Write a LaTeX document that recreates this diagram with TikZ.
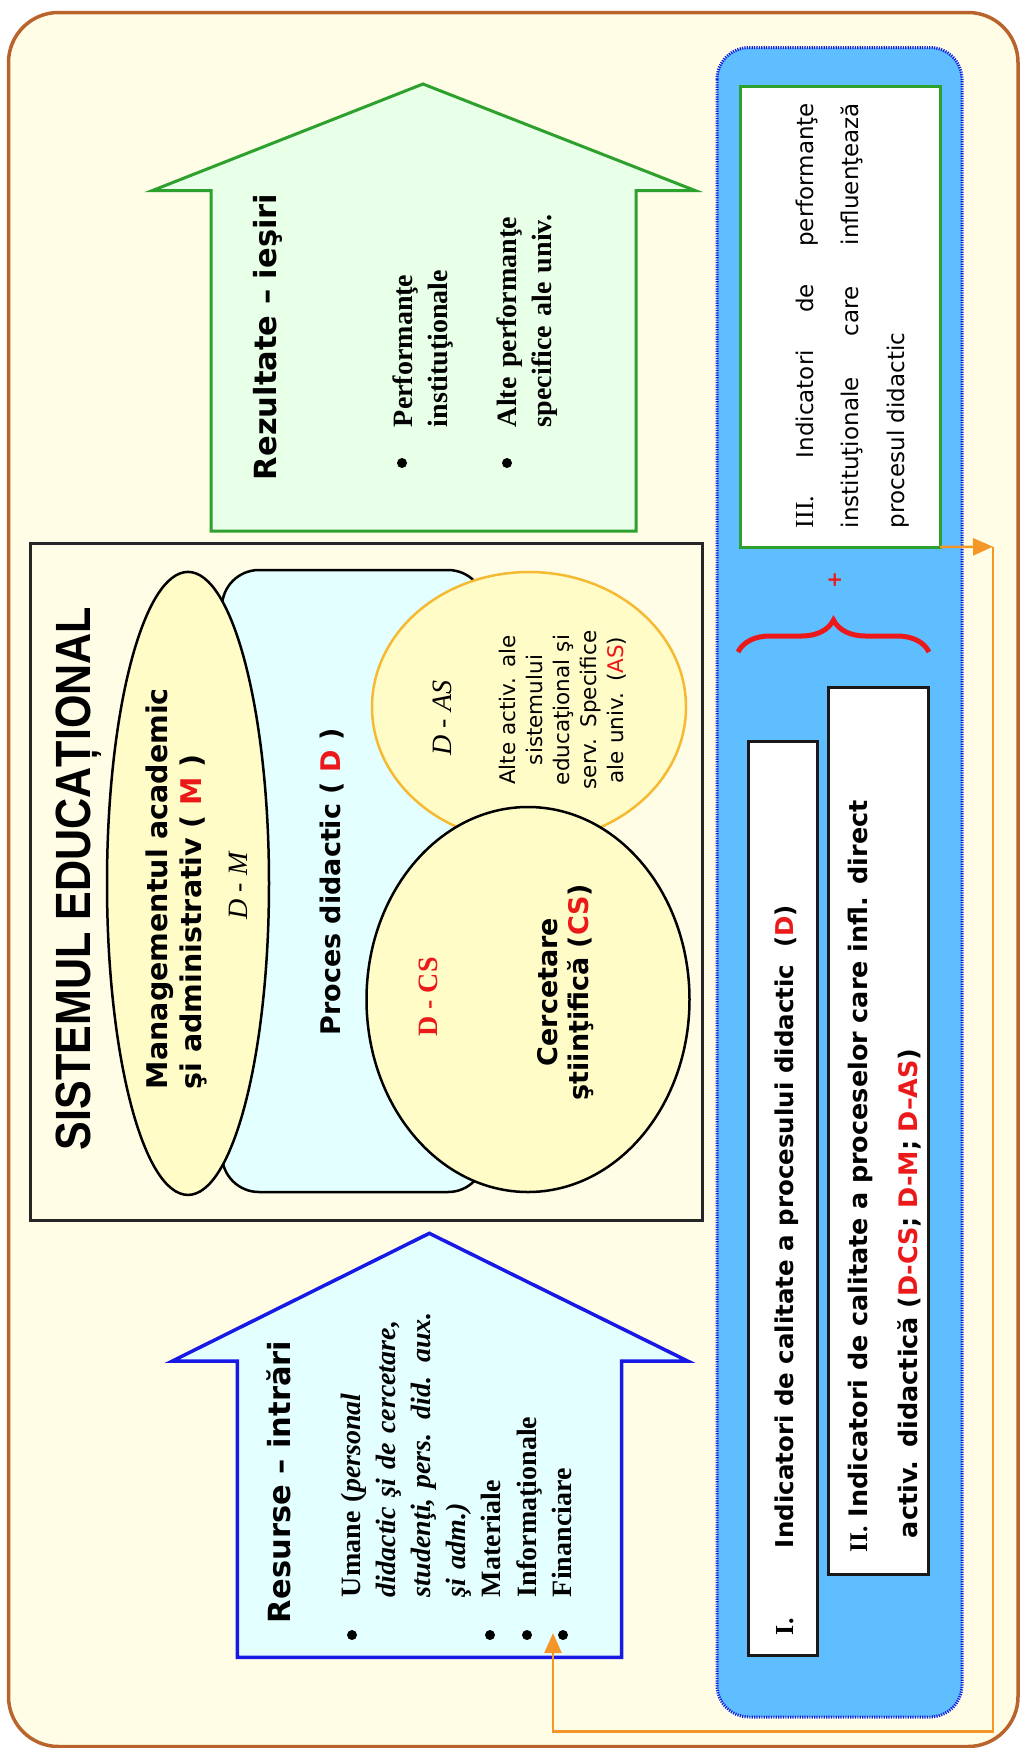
\documentclass[tikz,border=0pt]{standalone}
\usepackage{fontspec}
\setmainfont{Liberation Serif}
\setsansfont{DejaVu Sans}
\newfontfamily\titlefont[FakeStretch=0.87]{Liberation Sans}
\usetikzlibrary{arrows.meta, shapes.geometric, decorations.pathreplacing}

\definecolor{bgbeige}{RGB}{255,253,230}
\definecolor{framebrown}{RGB}{185,100,45}
\definecolor{panelblue}{RGB}{95,190,255}
\definecolor{paneledge}{RGB}{20,30,220}
\definecolor{outgreen}{RGB}{45,160,45}
\definecolor{outfill}{RGB}{232,255,232}
\definecolor{inblue}{RGB}{25,25,230}
\definecolor{infill}{RGB}{228,255,255}
\definecolor{ellyellow}{RGB}{255,252,200}
\definecolor{asorange}{RGB}{245,185,50}
\definecolor{linkorange}{RGB}{245,150,40}
\definecolor{textred}{RGB}{235,25,25}

\begin{document}
\begin{tikzpicture}[
    x=1pt, y=-1pt,
    outerframe/.style={
        draw=framebrown,
        line width=3.5pt,
        fill=bgbeige,
        rounded corners=50pt,
    },
    bluepanel/.style={
        draw=paneledge,
        line width=3pt,
        dash pattern=on 1.2pt off 1.2pt,
        fill=panelblue,
        rounded corners=32pt,
    },
    sysbox/.style={
        draw=black!85,
        line width=3pt,
        inner sep=0pt,
        outer sep=0pt,
    },
    whitebox/.style={
        draw=black!90,
        line width=3pt,
        fill=white,
        inner sep=0pt,
        outer sep=0pt,
    },
    procbox/.style={
        draw,
        line width=2.5pt,
        fill=infill,
        rounded corners=37pt,
        inner sep=0pt,
    },
    zone/.style={
        ellipse,
        draw,
        line width=2.5pt,
        fill=ellyellow,
        inner sep=0pt,
    },
    outarrow/.style={
        draw=outgreen,
        line width=3pt,
        fill=outfill,
    },
    inarrow/.style={
        draw=inblue,
        line width=3.5pt,
        fill=infill,
    },
    bulletdot/.style={
        circle,
        fill=black,
        inner sep=0pt,
        minimum size=10pt,
    },
    link/.style={
        draw=linkorange,
        line width=2.5pt,
        -{Triangle[length=20pt, width=17pt]},
    },
    bracket/.style={
        draw=textred,
        line width=5pt,
        decorate,
        decoration={brace, amplitude=32pt},
    },
    vtext/.style={
        rotate=90,
        inner sep=0pt,
        outer sep=0pt,
    },
    titletext/.style={vtext, font=\titlefont\bfseries\fontsize{49.5}{55}\selectfont},
    headsans/.style={vtext, font=\sffamily\bfseries\fontsize{30.5}{35}\selectfont},
    mainsans/.style={vtext, font=\sffamily\bfseries\fontsize{28.5}{34.7}\selectfont},
    procsans/.style={vtext, font=\sffamily\bfseries\fontsize{27}{31}\selectfont},
    smallsans/.style={vtext, font=\sffamily\fontsize{21.5}{27}\selectfont},
    listserif/.style={vtext, font=\rmfamily\bfseries\fontsize{28}{35.2}\selectfont},
    dserif/.style={vtext, font=\rmfamily\itshape\fontsize{28}{32}\selectfont},
    dbold/.style={vtext, text=textred, font=\rmfamily\bfseries\fontsize{28}{32}\selectfont},
    boxsans/.style={vtext, font=\sffamily\bfseries\fontsize{24.5}{30}\selectfont},
    boxsansii/.style={vtext, font=\sffamily\bfseries\fontsize{25.5}{50}\selectfont},
    plainsans/.style={vtext, font=\sffamily\fontsize{23}{45.5}\selectfont},
]
    \useasboundingbox (0,0) rectangle (1020,1748);

    % Background
    \draw[outerframe] (8.5,12.5) rectangle (1018,1746.5);
    \draw[bluepanel] (717,47.5) rectangle (962,1717);

    % Outputs
    \draw[outarrow] (211,531) -- (211,190.5) -- (152.5,190.5) -- (423,84)
        -- (695,190.5) -- (636,190.5) -- (636,531) -- cycle;
    \node[headsans, anchor=base west] (reztitle) at (276,480) {Rezultate – ieşiri};
    \node[bulletdot] (rez1) at (402,463) {};
    \node[bulletdot] (rez2) at (507,463) {};
    \node[listserif, text width=260pt, align=left, anchor=base west] (reztext1) at (412,427)
        {Performanţe\\instituţionale};
    \node[listserif, text width=260pt, align=left, anchor=base west] (reztext2) at (516,427)
        {Alte performanţe\\specifice ale univ.};

    % Inputs
    \draw[inarrow] (237.3,1657.3) -- (237.3,1361) -- (172.4,1361) -- (429.3,1233.3)
        -- (687.6,1361) -- (621.7,1361) -- (621.7,1657.3) -- cycle;
    \node[headsans, anchor=base west] (restitle) at (290,1623) {Resurse – intrări};
    \node[bulletdot] (res1) at (352,1635) {};
    \node[bulletdot] (res2) at (490,1635) {};
    \node[bulletdot] (res3) at (527,1635) {};
    \node[bulletdot] (res4) at (563,1635) {};
    \node[listserif, text width=320pt, align=left, anchor=base west] (restext) at (360,1597)
        {Umane (\textit{personal}\\\textit{didactic şi de cercetare,}\\\textit{studenţi, pers. did. aux.}\\\textit{şi adm.)}\\Materiale\\Informaţionale\\Financiare};

    % System
    \node[sysbox, minimum width=672pt, minimum height=677pt] (system) at (366,881.5) {};
    \node[titletext, anchor=base west] (systitle) at (90,1150) {SISTEMUL EDUCAȚIONAL};
    \node[procbox, minimum width=263pt, minimum height=622pt] (proc) at (353.5,881) {};
    \node[zone, minimum width=162pt, minimum height=623pt] (mgmt) at (188,883.4) {};
    \node[zone, draw=asorange, minimum width=314pt, minimum height=270pt] (alte) at (529,707) {};
    \node[zone, minimum width=323pt, minimum height=385pt] (cerc) at (528,999.5) {};

    \node[mainsans, text width=420pt, align=left, anchor=base west] (mgmttext) at (167,1089)
        {Managementul academic\\şi administrativ ( \textcolor{textred}{M} )};
    \node[dserif] (dm) at (238,886) {D - M};
    \node[procsans, anchor=base] (proctext) at (340,882) {Proces didactic ( \textcolor{textred}{D} )};
    \node[dserif] (das) at (442,718) {D - AS};
    \node[smallsans, text width=220pt, align=center, anchor=base] (altetext) at (515,710)
        {Alte activ. ale\\sistemului\\educaţional şi\\serv. Specifice\\ale univ. (\textcolor{textred}{AS})};
    \node[dbold] (dcs) at (428,997) {D - CS};
    \node[procsans, text width=260pt, align=center, anchor=base] (cerctext) at (557,992)
        {Cercetare\\ştiinţifică (\textcolor{textred}{CS})};

    % Indicators
    \node[whitebox, draw=outgreen, minimum width=200pt, minimum height=461pt] (boxIII) at (840,316.5) {};
    \node[plainsans, text width=425pt, align=justify, anchor=base west] (iiitext) at (813,528)
        {{\rmfamily\fontsize{26}{45.5}\selectfont III.} Indicatori de performanţe\linebreak instituţionale care influenţează\linebreak procesul didactic};
    \node[vtext, text=textred, font=\sffamily\bfseries\fontsize{20}{24}\selectfont] (plus) at (835,580) {+};
    \coordinate (braceL) at (738,652);
    \coordinate (braceR) at (929,652);
    \draw[bracket] (braceL) -- (braceR);

    \node[whitebox, minimum width=100pt, minimum height=887pt] (boxII) at (878,1130.5) {};
    \node[boxsansii, text width=900pt, align=left, anchor=base west] (iitext) at (867,1552)
        {{\rmfamily II.} Indicatori de calitate a proceselor care infl. direct\\\hspace*{14pt}activ. didactică (\textcolor{textred}{D-CS}; \textcolor{textred}{D-M}; \textcolor{textred}{D–AS})};

    \node[whitebox, minimum width=69pt, minimum height=914pt] (boxI) at (782.5,1198) {};
    \node[vtext, font=\rmfamily\bfseries\fontsize{26}{30}\selectfont, anchor=base west] (inum) at (793,1635) {I.};
    \node[boxsans, anchor=base west] (itext) at (793,1548)
        {Indicatori de calitate a procesului didactic\ \ (\textcolor{textred}{D})};

    % Feedback
    \coordinate (turnR) at (993,546.7);
    \coordinate (loopR) at (993,1731.7);
    \coordinate (loopL) at (553,1731.7);
    \coordinate (finarrow) at (553,1633);
    \draw[link] (boxIII.south east) -- (turnR);
    \draw[link] (turnR) -- (loopR) -- (loopL) -- (finarrow);
\end{tikzpicture}
\end{document}
